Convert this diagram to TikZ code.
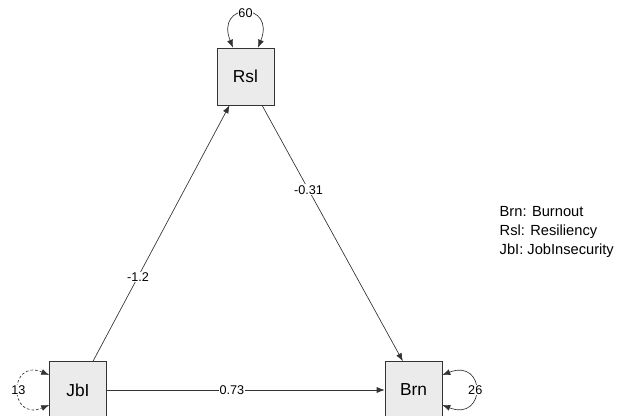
\documentclass[tikz,border=0pt]{standalone}
\usepackage{fontspec}
\setmainfont{Liberation Sans}
\usetikzlibrary{arrows.meta}

\begin{document}
\begin{tikzpicture}[
  x=0.75pt, y=-0.75pt,
  var/.style={draw=black!80, fill=black!8, minimum size=42.75pt, inner sep=0pt, font=\fontsize{13}{15}\selectfont},
  arr/.style={-{Latex[length=6pt,width=4.5pt]}, draw=black!80, line width=0.5pt},
  loopy/.style={{Latex[length=6pt,width=4.5pt]}-{Latex[length=6pt,width=4.5pt]}, draw=black!80, line width=0.5pt},
  lbl/.style={fill=white, inner sep=0.6pt, font=\fontsize{9.5}{11}\selectfont}
]
\useasboundingbox (0,0) rectangle (629,416);
\clip (0,0) rectangle (629,416);

\node[var] (rsl) at (245.5,76.5) {Rsl};
\node[var] (jbi) at (78,390) {JbI};
\node[var] (brn) at (413.5,390) {Brn};

\draw[arr] ([xshift=11.25pt]jbi.north) -- ([xshift=-12pt]rsl.south) node[lbl, pos=0.33] {-1.2};
\draw[arr] ([xshift=12.4pt]rsl.south) -- ([xshift=-8pt]brn.north) node[lbl, pos=0.33] {-0.31};
\draw[arr] (jbi.east) -- (brn.west) node[lbl, pos=0.45] {0.73};

% variances
\draw[loopy] ([xshift=-9.4pt]rsl.north) .. controls +(-18,-46) and +(18,-46) .. ([xshift=9.4pt]rsl.north) node[lbl, pos=0.5] {60};
\draw[loopy, dash pattern=on 2pt off 1.5pt] ([yshift=11.25pt]jbi.west) .. controls +(-41,-17) and +(-41,17) .. ([yshift=-11.25pt]jbi.west) node[lbl, pos=0.5] {13};
\draw[loopy] ([yshift=11.25pt]brn.east) .. controls +(44,-17) and +(44,17) .. ([yshift=-11.25pt]brn.east) node[lbl, pos=0.5] {26};

\node[anchor=west, align=left, font=\fontsize{11}{14.25}\selectfont] (legend) at (495,232)
  {Brn: Burnout\\Rsl: Resiliency\\JbI: JobInsecurity};
\end{tikzpicture}
\end{document}
